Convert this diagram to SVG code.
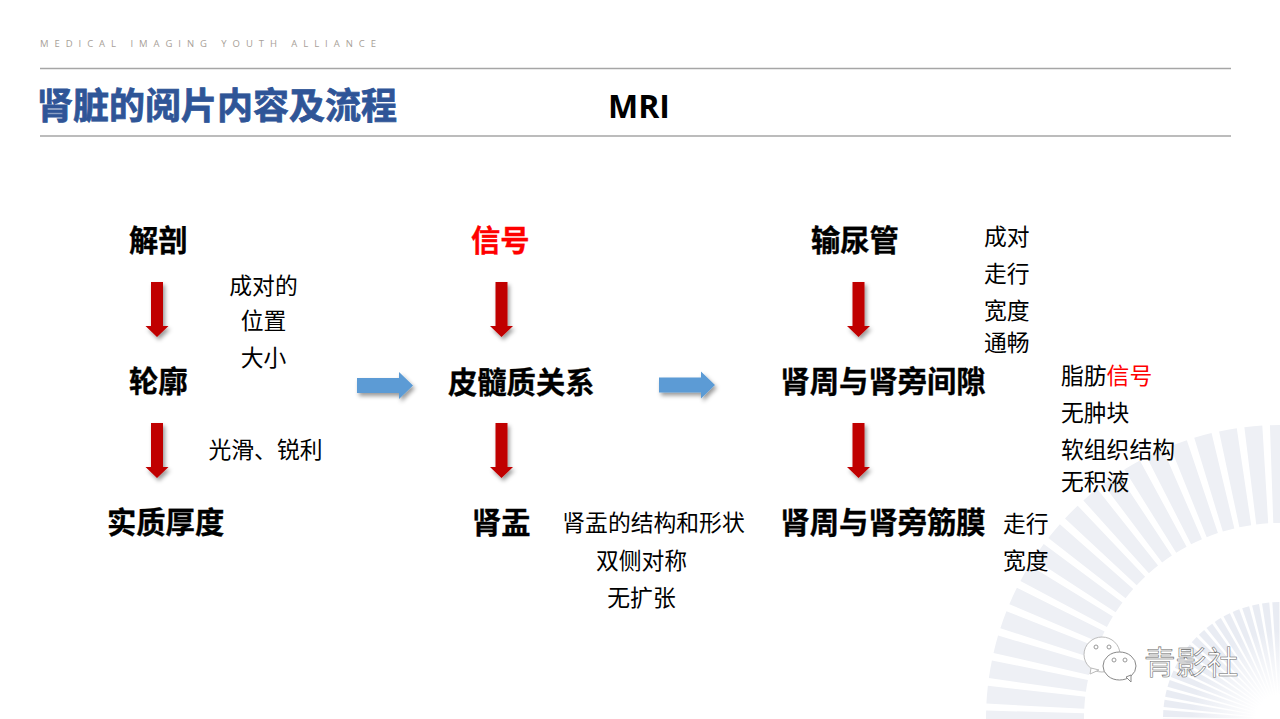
<svg xmlns="http://www.w3.org/2000/svg" width="1280" height="719" viewBox="0 0 1280 719">
<defs>
<filter id="sh" x="-40%" y="-30%" width="200%" height="170%"><feDropShadow dx="2" dy="3" stdDeviation="2" flood-color="#000" flood-opacity="0.4"/></filter>
<radialGradient id="fade" gradientUnits="userSpaceOnUse" cx="1280" cy="719" r="118"><stop offset="0.2" stop-color="#fff"/><stop offset="0.75" stop-color="#e9ecf3"/></radialGradient>
<path id="down" d="M-6 0H6V44H11.500L0 55L-11.500 44H-6Z"/>
<path id="right" d="M0-7.500H42V-13.500L56 0L42 13.500V7.500H0Z"/>
</defs>
<style>
text{font-family:"Noto Sans CJK SC","Noto Sans",sans-serif;fill:#000}
.h{font-size:29.3px;font-weight:700;stroke:#000;stroke-width:.35}
.s{font-size:22.8px}
.m{text-anchor:middle}
.red{fill:#f00}
.h.red{stroke:#f00}
.dn{fill:#c00000;filter:url(#sh)}
.rt{fill:#5b9bd5;filter:url(#sh)}
.rule{stroke:#a6a6a6;stroke-width:1.3;fill:none}
</style>
<g id="background">
<rect width="1280" height="719" fill="#fff"/>
<circle cx="1280" cy="719" r="245" fill="none" stroke="#eef0f5" stroke-width="98" stroke-dasharray="14.97 6.41" transform="rotate(183 1280 719)"/>
<circle cx="1280" cy="719" r="68.500" fill="none" stroke="url(#fade)" stroke-width="97" stroke-dasharray="4.18 1.798" transform="rotate(181 1280 719)"/>
</g>
<g id="header">
<text x="40" y="47" font-size="9.5" letter-spacing="5.95" style="font-family:'Open Sans','Noto Sans',sans-serif;fill:#a89f98">MEDICAL IMAGING YOUTH ALLIANCE</text>
<line class="rule" x1="40" y1="68.500" x2="1231" y2="68.500"/>
<line class="rule" x1="40" y1="136" x2="1231" y2="136"/>
<text x="37" y="119" font-size="36" font-weight="700" style="fill:#2f5597;stroke:#2f5597;stroke-width:.8">肾脏的阅片内容及流程</text>
<text x="608" y="118" font-size="32" font-weight="700" style="font-family:'Open Sans','Noto Sans',sans-serif">MRI</text>
</g>
<g id="connectors">
<use href="#down" class="dn" x="157" y="282"/>
<use href="#down" class="dn" x="157" y="423"/>
<use href="#down" class="dn" x="501.500" y="282"/>
<use href="#down" class="dn" x="501.500" y="423"/>
<use href="#down" class="dn" x="858.500" y="282"/>
<use href="#down" class="dn" x="858.500" y="423"/>
<use href="#right" class="rt" x="357" y="385.500"/>
<use href="#right" class="rt" x="659" y="385"/>
</g>
<g id="col1">
<g id="n-jiepou"><text class="h" x="129" y="250.500">解剖</text></g>
<g id="n-lunkuo"><text class="h" x="129" y="391.500">轮廓</text></g>
<g id="n-shizhi"><text class="h" x="107" y="532.500">实质厚度</text></g>
<g id="n-note1"><text class="s m" x="263.500" y="294">成对的</text><text class="s m" x="263.500" y="329">位置</text><text class="s m" x="263.500" y="366">大小</text></g>
<g id="n-note2"><text class="s" x="208.500" y="458">光滑、锐利</text></g>
</g>
<g id="col2">
<g id="n-xinhao"><text class="h red" x="471" y="250.500">信号</text></g>
<g id="n-pisui"><text class="h" x="448" y="392.500">皮髓质关系</text></g>
<g id="n-shenyu"><text class="h" x="472" y="532.500">肾盂</text></g>
<g id="n-note3"><text class="s m" x="653.500" y="531">肾盂的结构和形状</text><text class="s m" x="641.500" y="569">双侧对称</text><text class="s m" x="641.500" y="606">无扩张</text></g>
</g>
<g id="col3">
<g id="n-shuniao"><text class="h" x="811" y="250.500">输尿管</text></g>
<g id="n-jianxi"><text class="h" x="780.500" y="391.500">肾周与肾旁间隙</text></g>
<g id="n-jinmo"><text class="h" x="780.500" y="532.500">肾周与肾旁筋膜</text></g>
<g id="n-note4"><text class="s" x="984" y="245">成对</text><text class="s" x="984" y="282">走行</text><text class="s" x="984" y="319">宽度</text><text class="s" x="984" y="351">通畅</text></g>
<g id="n-note5"><text class="s" x="1061" y="384">脂肪<tspan class="red">信号</tspan></text><text class="s" x="1061" y="421">无肿块</text><text class="s" x="1061" y="458">软组织结构</text><text class="s" x="1061" y="490">无积液</text></g>
<g id="n-note6"><text class="s" x="1003" y="532">走行</text><text class="s" x="1003" y="569">宽度</text></g>
</g>
<g id="watermark">
<ellipse cx="1102" cy="654.500" rx="18" ry="17.500" fill="#fff" stroke="#bbb"/>
<path d="M1091 668L1090 674L1099 670Z" fill="#fff" stroke="#bbb"/>
<ellipse cx="1119.500" cy="666" rx="16.500" ry="14" fill="#fff" stroke="#888"/>
<path d="M1126 677L1131 682L1131 675Z" fill="#fff" stroke="#888"/>
<g fill="#fff" stroke="#999"><circle cx="1096" cy="647" r="2"/><circle cx="1109" cy="647" r="2"/><circle cx="1114" cy="660" r="2"/><circle cx="1125" cy="660" r="2"/></g>
<text x="1144" y="674" font-size="31.500" style="fill:#fff;stroke:#666;stroke-width:.55">青影社</text>
</g>
</svg>
